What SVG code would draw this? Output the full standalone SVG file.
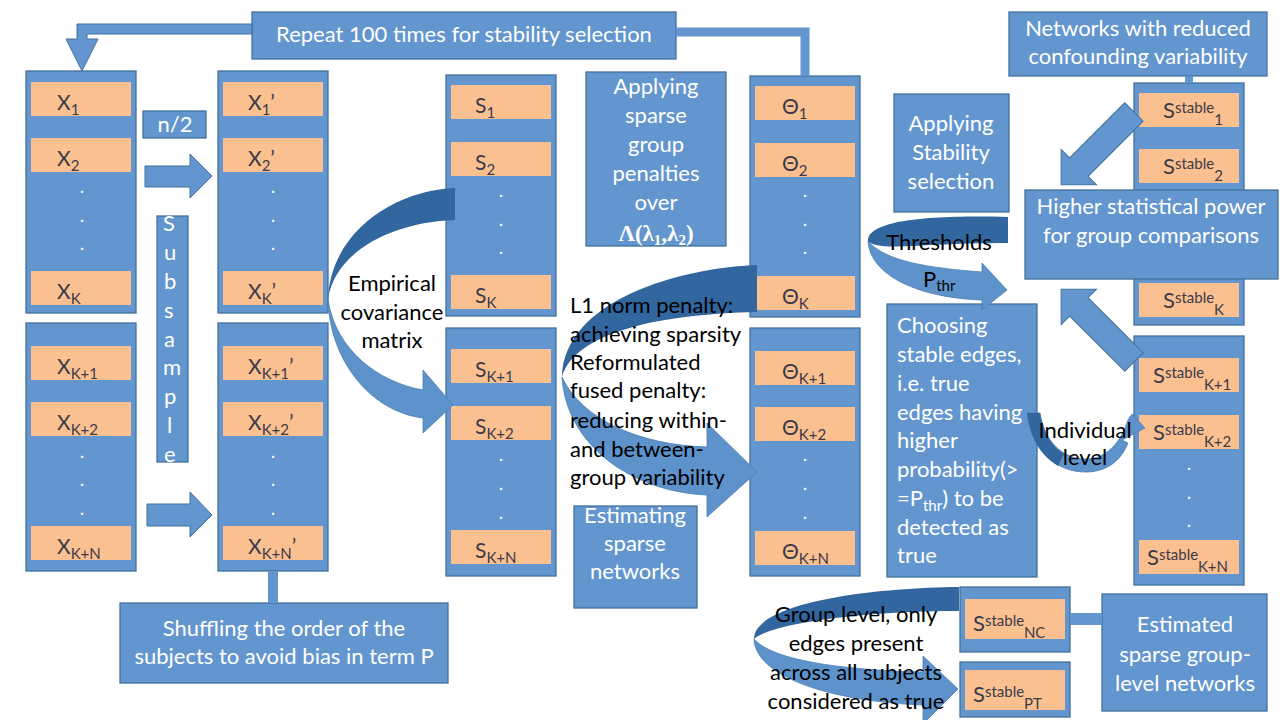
<svg xmlns="http://www.w3.org/2000/svg" width="1280" height="720" viewBox="0 0 1280 720">
<defs>
<style>
.box{fill:#6396CE;stroke:#41719C;stroke-width:1.3}
.cell{fill:#FAC090}
.dark{fill:#32669F}
.light{fill:#5E92CB;stroke:#4A7DB5;stroke-width:0.8}
.arr{fill:#6396CE;stroke:#41719C;stroke-width:1}
.wt{font-family:Lato,"Liberation Sans",sans-serif;font-size:22px;fill:#ffffff}
.bt{font-family:Lato,"Liberation Sans",sans-serif;font-size:22px;fill:#000000}
.lbl{font-family:Lato,"Liberation Sans",sans-serif;font-size:21px;fill:#3a3a4a}
.sub{font-size:15px}
.dot{font-family:Lato,"Liberation Sans",sans-serif;font-size:15px;font-weight:bold;fill:#ffffff;text-anchor:middle}
.c{text-anchor:middle}
.ln{fill:none;stroke:#6396CE;stroke-width:9}
</style>
<clipPath id="clipSub"><rect x="157" y="216" width="31" height="246"/></clipPath>
</defs>
<rect width="1280" height="720" fill="#ffffff"/>

<g id="repeat">
<rect class="box" x="252" y="12" width="424" height="47"/>
<text class="wt c" x="464" y="42">Repeat 100 times for stability selection</text>
</g>

<g id="xcol">
<rect class="box" x="26" y="71" width="110" height="242"/>
<rect class="cell" x="31" y="82" width="100" height="34"/>
<rect class="cell" x="31" y="138" width="100" height="34"/>
<rect class="cell" x="31" y="271" width="100" height="34"/>
<text class="lbl" x="57" y="110">X<tspan class="sub" dy="5">1</tspan></text>
<text class="lbl" x="57" y="166">X<tspan class="sub" dy="5">2</tspan></text>
<text class="lbl" x="57" y="299">X<tspan class="sub" dy="5">K</tspan></text>
<text class="dot" x="82" y="193">.</text>
<text class="dot" x="82" y="222">.</text>
<text class="dot" x="82" y="250">.</text>
<rect class="box" x="26" y="323" width="110" height="248"/>
<rect class="cell" x="31" y="346" width="100" height="34"/>
<rect class="cell" x="31" y="402" width="100" height="34"/>
<rect class="cell" x="31" y="526" width="100" height="34"/>
<text class="lbl" x="57" y="374">X<tspan class="sub" dy="5">K+1</tspan></text>
<text class="lbl" x="57" y="430">X<tspan class="sub" dy="5">K+2</tspan></text>
<text class="lbl" x="57" y="554">X<tspan class="sub" dy="5">K+N</tspan></text>
<text class="dot" x="82" y="458">.</text>
<text class="dot" x="82" y="486">.</text>
<text class="dot" x="82" y="515">.</text>
</g>

<g id="n2">
<rect class="box" x="143" y="111" width="63" height="27"/>
<text class="wt c" x="175" y="132">n/2</text>
</g>

<g id="subsample">
<rect class="box" x="157" y="216" width="31" height="246"/>
<g clip-path="url(#clipSub)">
<text class="wt" x="163" y="231">S</text>
<text class="wt" x="164" y="260">u</text>
<text class="wt" x="164" y="289">b</text>
<text class="wt" x="164" y="318">s</text>
<text class="wt" x="164" y="347">a</text>
<text class="wt" x="163" y="375">m</text>
<text class="wt" x="164" y="404">p</text>
<text class="wt" x="167" y="433">l</text>
<text class="wt" x="164" y="462">e</text>
</g>
</g>

<g id="xpcol">
<rect class="box" x="218" y="71" width="110" height="242"/>
<rect class="cell" x="223" y="82" width="100" height="34"/>
<rect class="cell" x="223" y="138" width="100" height="34"/>
<rect class="cell" x="223" y="271" width="100" height="34"/>
<text class="lbl" x="248" y="110">X<tspan class="sub" dy="5">1</tspan><tspan dy="-5">’</tspan></text>
<text class="lbl" x="248" y="166">X<tspan class="sub" dy="5">2</tspan><tspan dy="-5">’</tspan></text>
<text class="lbl" x="248" y="299">X<tspan class="sub" dy="5">K</tspan><tspan dy="-5">’</tspan></text>
<text class="dot" x="273" y="193">.</text>
<text class="dot" x="273" y="222">.</text>
<text class="dot" x="273" y="250">.</text>
<rect class="box" x="218" y="323" width="110" height="248"/>
<rect class="cell" x="223" y="346" width="100" height="34"/>
<rect class="cell" x="223" y="402" width="100" height="34"/>
<rect class="cell" x="223" y="526" width="100" height="34"/>
<text class="lbl" x="248" y="374">X<tspan class="sub" dy="5">K+1</tspan><tspan dy="-5">’</tspan></text>
<text class="lbl" x="248" y="430">X<tspan class="sub" dy="5">K+2</tspan><tspan dy="-5">’</tspan></text>
<text class="lbl" x="248" y="554">X<tspan class="sub" dy="5">K+N</tspan><tspan dy="-5">’</tspan></text>
<text class="dot" x="273" y="458">.</text>
<text class="dot" x="273" y="486">.</text>
<text class="dot" x="273" y="515">.</text>
</g>

<g id="shuffle">
<rect class="box" x="120" y="603" width="328" height="80"/>
<text class="wt c" x="284" y="636">Shuffling the order of the</text>
<text class="wt c" x="284" y="664">subjects to avoid bias in term P</text>
</g>

<g id="scol">
<rect class="box" x="446" y="75" width="110" height="241"/>
<rect class="cell" x="451" y="85" width="100" height="34"/>
<rect class="cell" x="451" y="142" width="100" height="34"/>
<rect class="cell" x="451" y="275" width="100" height="34"/>
<text class="lbl" x="475" y="113">S<tspan class="sub" dy="5">1</tspan></text>
<text class="lbl" x="475" y="170">S<tspan class="sub" dy="5">2</tspan></text>
<text class="lbl" x="475" y="303">S<tspan class="sub" dy="5">K</tspan></text>
<text class="dot" x="501" y="197">.</text>
<text class="dot" x="501" y="226">.</text>
<text class="dot" x="501" y="254">.</text>
<rect class="box" x="446" y="328" width="110" height="248"/>
<rect class="cell" x="451" y="349" width="100" height="34"/>
<rect class="cell" x="451" y="406" width="100" height="34"/>
<rect class="cell" x="451" y="530" width="100" height="34"/>
<text class="lbl" x="475" y="377">S<tspan class="sub" dy="5">K+1</tspan></text>
<text class="lbl" x="475" y="434">S<tspan class="sub" dy="5">K+2</tspan></text>
<text class="lbl" x="475" y="558">S<tspan class="sub" dy="5">K+N</tspan></text>
<text class="dot" x="501" y="461">.</text>
<text class="dot" x="501" y="490">.</text>
<text class="dot" x="501" y="519">.</text>
</g>

<g id="applying">
<rect class="box" x="586" y="72" width="140" height="174"/>
<text class="wt c" x="656" y="94">Applying</text>
<text class="wt c" x="656" y="123">sparse</text>
<text class="wt c" x="656" y="152">group</text>
<text class="wt c" x="656" y="181">penalties</text>
<text class="wt c" x="656" y="210">over</text>
<text class="c" x="656" y="241" style="font-family:'Liberation Serif','DejaVu Serif',serif;font-weight:bold;font-size:23px;fill:#ffffff">Λ(λ<tspan style="font-size:15px" dy="4">1</tspan><tspan dy="-4">,λ</tspan><tspan style="font-size:15px" dy="4">2</tspan><tspan dy="-4">)</tspan></text>
</g>

<g id="estimating">
<rect class="box" x="574" y="506" width="123" height="102"/>
<text class="wt c" x="635" y="523">Estimating</text>
<text class="wt c" x="635" y="551">sparse</text>
<text class="wt c" x="635" y="579">networks</text>
</g>

<g id="thetacol">
<rect class="box" x="750" y="76" width="110" height="241"/>
<rect class="cell" x="755" y="86" width="100" height="34"/>
<rect class="cell" x="755" y="143" width="100" height="34"/>
<rect class="cell" x="755" y="276" width="100" height="34"/>
<text class="lbl" x="782" y="114">Θ<tspan class="sub" dy="5">1</tspan></text>
<text class="lbl" x="782" y="171">Θ<tspan class="sub" dy="5">2</tspan></text>
<text class="lbl" x="782" y="304">Θ<tspan class="sub" dy="5">K</tspan></text>
<text class="dot" x="805" y="197">.</text>
<text class="dot" x="805" y="226">.</text>
<text class="dot" x="805" y="254">.</text>
<rect class="box" x="750" y="328" width="110" height="248"/>
<rect class="cell" x="755" y="351" width="100" height="34"/>
<rect class="cell" x="755" y="407" width="100" height="34"/>
<rect class="cell" x="755" y="531" width="100" height="34"/>
<text class="lbl" x="782" y="379">Θ<tspan class="sub" dy="5">K+1</tspan></text>
<text class="lbl" x="782" y="435">Θ<tspan class="sub" dy="5">K+2</tspan></text>
<text class="lbl" x="782" y="559">Θ<tspan class="sub" dy="5">K+N</tspan></text>
<text class="dot" x="805" y="461">.</text>
<text class="dot" x="805" y="490">.</text>
<text class="dot" x="805" y="519">.</text>
</g>

<g id="stability">
<rect class="box" x="894" y="94" width="115" height="118"/>
<text class="wt c" x="951" y="131">Applying</text>
<text class="wt c" x="951" y="160">Stability</text>
<text class="wt c" x="951" y="189">selection</text>
</g>

<g id="networks">
<rect class="box" x="1009" y="12" width="258" height="64"/>
<text class="wt c" x="1138" y="36">Networks with reduced</text>
<text class="wt c" x="1138" y="64">confounding  variability</text>
</g>

<g id="stablecol">
<rect class="box" x="1134" y="83" width="110" height="242"/>
<rect class="cell" x="1139" y="93" width="100" height="34"/>
<rect class="cell" x="1139" y="149" width="100" height="34"/>
<rect class="cell" x="1139" y="283" width="100" height="34"/>
<text class="lbl" x="1163" y="118" style="font-size:22px">S<tspan class="sub" dy="-5">stable</tspan><tspan class="sub" dy="12">1</tspan></text>
<text class="lbl" x="1163" y="174" style="font-size:22px">S<tspan class="sub" dy="-5">stable</tspan><tspan class="sub" dy="12">2</tspan></text>
<text class="lbl" x="1163" y="308" style="font-size:22px">S<tspan class="sub" dy="-5">stable</tspan><tspan class="sub" dy="12">K</tspan></text>
<rect class="box" x="1134" y="336" width="110" height="249"/>
<rect class="cell" x="1139" y="358" width="100" height="34"/>
<rect class="cell" x="1139" y="415" width="100" height="34"/>
<rect class="cell" x="1139" y="540" width="100" height="34"/>
<text class="lbl" x="1153" y="383" style="font-size:22px">S<tspan class="sub" dy="-5">stable</tspan><tspan class="sub" dy="12">K+1</tspan></text>
<text class="lbl" x="1153" y="440" style="font-size:22px">S<tspan class="sub" dy="-5">stable</tspan><tspan class="sub" dy="12">K+2</tspan></text>
<text class="lbl" x="1147" y="565" style="font-size:22px">S<tspan class="sub" dy="-5">stable</tspan><tspan class="sub" dy="12">K+N</tspan></text>
<text class="dot" x="1189" y="470">.</text>
<text class="dot" x="1189" y="499">.</text>
<text class="dot" x="1189" y="527">.</text>
</g>

<g id="higher">
<rect class="box" x="1025" y="190" width="253" height="89"/>
<text class="wt c" x="1151" y="214">Higher statistical power</text>
<text class="wt c" x="1151" y="243">for group comparisons</text>
</g>

<g id="choosing">
<rect class="box" x="887" y="304" width="150" height="273"/>
<text class="wt" x="897" y="333">Choosing</text>
<text class="wt" x="897" y="362">stable edges,</text>
<text class="wt" x="897" y="391">i.e. true</text>
<text class="wt" x="897" y="420">edges having</text>
<text class="wt" x="897" y="448">higher</text>
<text class="wt" x="897" y="477">probability(&gt;</text>
<text class="wt" x="897" y="506">=P<tspan class="sub" dy="5">thr</tspan><tspan dy="-5">)  to be</tspan></text>
<text class="wt" x="897" y="535">detected as</text>
<text class="wt" x="897" y="563">true</text>
</g>

<g id="nc">
<rect class="box" x="960" y="587" width="110" height="65"/>
<rect class="cell" x="965" y="599" width="100" height="40"/>
<text class="lbl" x="973" y="631" style="font-size:22px">S<tspan class="sub" dy="-5">stable</tspan><tspan class="sub" dy="12">NC</tspan></text>
</g>

<g id="pt">
<rect class="box" x="960" y="662" width="110" height="55"/>
<rect class="cell" x="965" y="670" width="100" height="40"/>
<text class="lbl" x="973" y="702" style="font-size:22px">S<tspan class="sub" dy="-5">stable</tspan><tspan class="sub" dy="12">PT</tspan></text>
</g>

<g id="estimated">
<rect class="box" x="1102" y="594" width="165" height="117"/>
<text class="wt c" x="1185" y="632">Estimated</text>
<text class="wt c" x="1185" y="662">sparse group-</text>
<text class="wt c" x="1185" y="691">level networks</text>
</g>

<g id="connectors">
<path class="arr" d="M252,24 H77 V39 H66 L82,71 L98,39 H87 V34 H252 Z"/>
<polyline class="ln" points="676,32 805,32 805,76"/>
<rect x="268" y="571" width="10" height="32" fill="#6396CE"/>
<rect x="1185" y="76" width="8" height="7" fill="#6396CE"/>
<rect x="1070" y="613" width="32" height="12" fill="#6396CE"/>
<polygon class="arr" points="145,166 190,166 190,154 212,176 190,198 190,187 145,187"/>
<polygon class="arr" points="147,504 190,504 190,492 212,515 190,537 190,526 147,526"/>

<path class="dark" d="M455,188 C395,190 330,232 328,300 C334,252 392,222 455,220 Z"/>
<path class="light" d="M328,300 C330,362 372,412 423,418 L423,433 L453,405 L423,370 L423,390 C378,382 336,350 328,300 Z"/>

<path class="dark" d="M757,265 C680,268 564,300 562,377 C575,332 660,314 757,312 Z"/>
<path class="light" d="M562,377 C566,445 632,492 707,495 L707,517 L757,472 L707,423 L707,447 C640,445 582,420 562,377 Z"/>

<path class="dark" d="M1008,217 C930,215 868,220 868,241 C878,252 920,243 1008,243 Z"/>
<path class="light" d="M868,241 C870,276 920,298 982,300 L982,310 L1007,290 L982,263 L982,272 C930,268 886,262 868,241 Z"/>

<path class="light" d="M1027,413 C1032,455 1060,473 1088,472 C1110,471 1122,458 1128,443 L1122,440 L1145,428 L1132,414 L1128,420 C1120,445 1105,458 1088,459 C1062,460 1044,440 1040,413 Z"/>
<path class="dark" d="M1027,413 L1040,413 C1043,433 1052,447 1064,454 L1058,466 C1040,455 1030,437 1027,413 Z"/>

<path class="dark" d="M959,587 C860,588 754,605 754,639 C770,624 860,611 959,611 Z"/>
<path class="light" d="M754,639 C756,680 840,702 923,705 L923,724 L958,689 L923,656 L923,672 C840,670 772,660 754,639 Z"/>

<polygon class="arr" transform="translate(1134,112) rotate(135)" points="0,-13 78,-13 78,-25 103,0 78,25 78,13 0,13"/>
<polygon class="arr" transform="translate(1134,362) rotate(-135)" points="0,-13 78,-13 78,-25 103,0 78,25 78,13 0,13"/>

<text class="bt c" x="392" y="291">Empirical</text>
<text class="bt c" x="392" y="320">covariance</text>
<text class="bt c" x="392" y="348">matrix</text>
<text class="bt" x="570" y="313">L1 norm penalty:</text>
<text class="bt" x="570" y="342">achieving sparsity</text>
<text class="bt" x="570" y="370">Reformulated</text>
<text class="bt" x="570" y="398">fused penalty:</text>
<text class="bt" x="570" y="428">reducing within-</text>
<text class="bt" x="570" y="457">and between-</text>
<text class="bt" x="570" y="485">group variability</text>
<text class="bt c" x="939" y="250">Thresholds</text>
<text class="bt" x="923" y="287">P<tspan class="sub" dy="4">thr</tspan></text>
<text class="bt c" x="1085" y="438">Individual</text>
<text class="bt c" x="1085" y="465">level</text>
<text class="bt c" x="856" y="622">Group level, only</text>
<text class="bt c" x="856" y="651">edges present</text>
<text class="bt c" x="856" y="680">across all subjects</text>
<text class="bt c" x="856" y="709">considered as true</text>
</g>
</svg>
